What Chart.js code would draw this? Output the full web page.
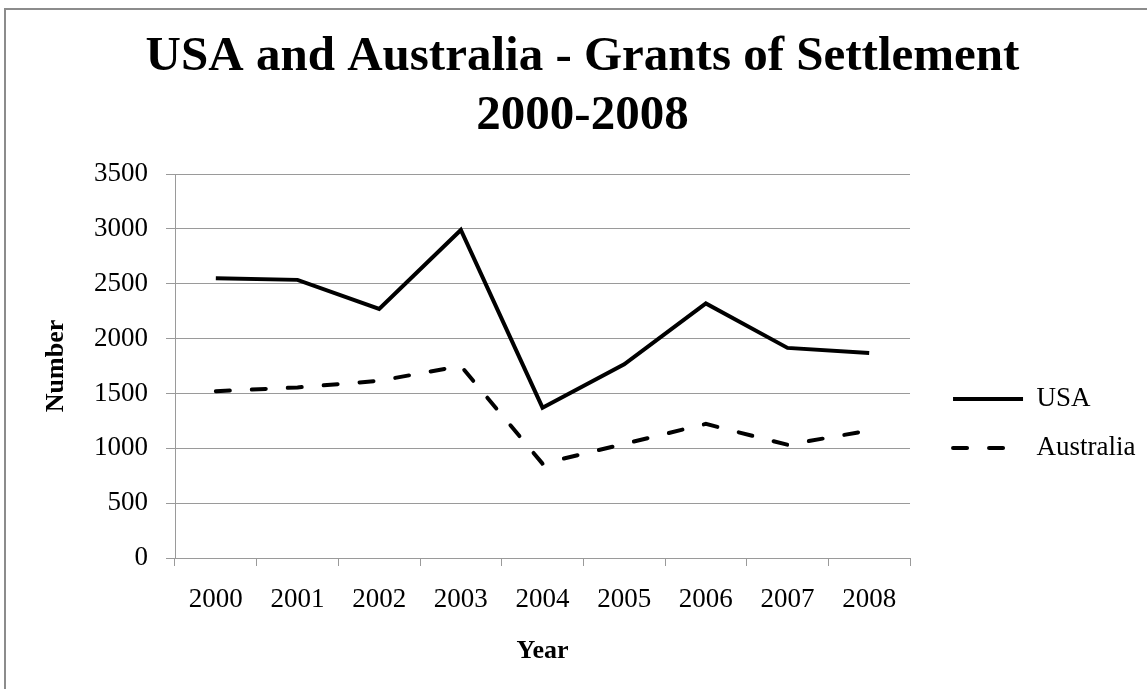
<!DOCTYPE html>
<html>
<head>
<meta charset="utf-8">
<script src="https://cdn.jsdelivr.net/npm/chart.js@4/dist/chart.umd.min.js"></script>
<style>
  html, body { margin: 0; padding: 0; background: #fff; overflow: hidden; }
  #frame { position: absolute; left: 4px; top: 8px; width: 2000px; height: 2000px; border: 2px solid #8c8c8c; }
  #wrap { position: absolute; left: 0; top: 0; width: 1147px; height: 689px; }
</style>
</head>
<body>
<div id="frame"></div>
<div id="wrap"><canvas id="grafico"></canvas></div>
<script>
// values
const years = ['2000', '2001', '2002', '2003', '2004', '2005', '2006', '2007', '2008'];
const usa = [2550, 2535, 2270, 2990, 1370, 1765, 2320, 1915, 1868];
const australia = [1520, 1555, 1615, 1750, 860, 1040, 1222, 1032, 1162];
const yTicks = [0, 500, 1000, 1500, 2000, 2500, 3000, 3500];

const serif = 'Liberation Serif';
const gridGrey = '#9a9a9a';

const ctx = document.getElementById('grafico').getContext('2d');

new Chart(ctx, {
  type: 'line',
  data: {
    labels: years,
    datasets: [
      {
        label: 'USA',
        data: usa,
        borderColor: '#000',
        backgroundColor: '#000',
        borderWidth: 4,
        borderCapStyle: 'butt',
        tension: 0,
        pointRadius: 0,
        fill: false
      },
      {
        label: 'Australia',
        data: australia,
        borderColor: '#000',
        backgroundColor: '#000',
        borderWidth: 4,
        borderDash: [14, 22],
        borderCapStyle: 'round',
        tension: 0,
        pointRadius: 0,
        fill: false
      }
    ]
  },
  options: {
    responsive: true,
    maintainAspectRatio: false,
    animation: false,
    layout: { padding: { left: 19.5, right: 1.5, top: 0, bottom: 0 } },
    plugins: {
      title: {
        display: true,
        text: ['USA and Australia - Grants of Settlement', '2000-2008'],
        color: '#000',
        font: { family: serif, size: 49, weight: 'bold', lineHeight: 1.2 },
        padding: { top: 28, bottom: 28.4 }
      },
      legend: {
        position: 'right',
        maxWidth: 300,
        title: { display: true, text: '', font: { size: 10, lineHeight: 1.2 }, padding: { top: 146, bottom: 0 } },
        labels: {
          usePointStyle: true,
          pointStyle: 'line',
          pointStyleWidth: 70,
          padding: 22,
          color: '#000',
          font: { family: serif, size: 27 },
          // point style drops the dash, so take it back from the dataset
          generateLabels: chart => Chart.defaults.plugins.legend.labels.generateLabels(chart).map(item => {
            const ds = chart.data.datasets[item.datasetIndex];
            return Object.assign(item, {
              lineDash: ds.borderDash || [],
              lineCap: ds.borderCapStyle,
              lineWidth: ds.borderWidth,
              strokeStyle: ds.borderColor
            });
          })
        }
      },
      tooltip: { enabled: false }
    },
    scales: {
      x: {
        offset: true,
        grid: { display: true, drawOnChartArea: false, drawTicks: true, tickLength: 8, offset: true, color: gridGrey },
        border: { color: gridGrey },
        ticks: { color: '#000', padding: 18, font: { family: serif, size: 27, lineHeight: 1.2 } },
        title: {
          display: true,
          text: 'Year',
          color: '#000',
          font: { family: serif, size: 26, weight: 'bold', lineHeight: 1.2 },
          padding: { top: 1, bottom: 22.4 }
        }
      },
      y: {
        min: 0,
        max: 3500,
        afterBuildTicks: scale => { scale.ticks = yTicks.map(v => ({ value: v })); },
        grid: { color: gridGrey, tickLength: 9 },
        border: { color: gridGrey },
        ticks: {
          color: '#000',
          padding: 18,
          font: { family: serif, size: 27, lineHeight: 1.2 },
          callback: v => String(v)
        },
        title: {
          display: true,
          text: 'Number',
          color: '#000',
          font: { family: serif, size: 26, weight: 'bold', lineHeight: 1.2 },
          padding: { top: 21, bottom: 4.3 }
        }
      },
      // empty right axis, only keeps the gap between plot and legend
      gap: {
        position: 'right',
        display: true,
        grid: { display: false, drawTicks: false },
        border: { display: false },
        ticks: { display: false },
        afterFit: scale => { scale.width = 21; }
      }
    }
  }
});
</script>
</body>
</html>
